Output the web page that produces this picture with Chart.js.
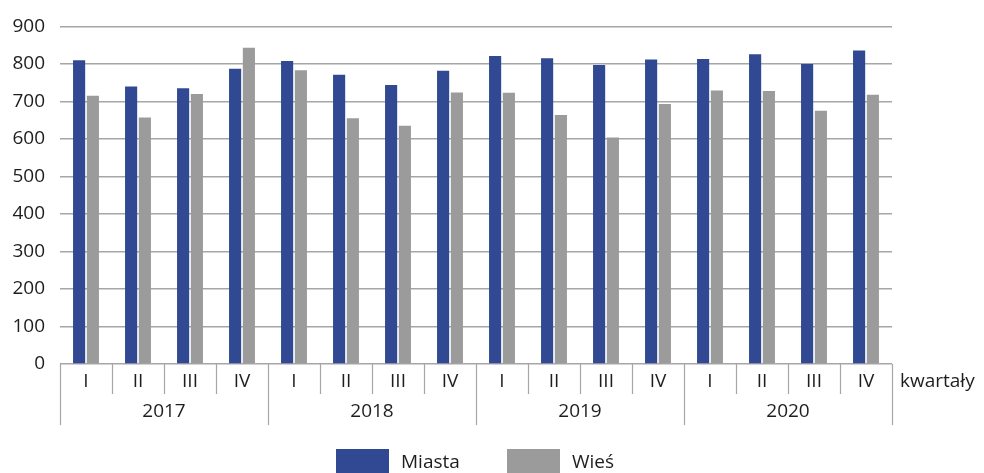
<!DOCTYPE html>
<html>
<head>
<meta charset="utf-8">
<script src="https://cdn.jsdelivr.net/npm/chart.js@4/dist/chart.umd.min.js"></script>
<style>
  body { margin: 0; background: #fff; }
  #wrap { width: 984px; height: 473px; }
</style>
</head>
<body>
<div id="wrap"><canvas id="chart" width="984" height="473"></canvas></div>
<script>
// dane
var kwartaly = ['I', 'II', 'III', 'IV'];
var lata = ['2017', '2018', '2019', '2020'];
var miasta = [810, 740, 735, 787, 808, 771, 744, 782, 821, 815, 797, 812, 813, 826, 800, 836];
var wies = [715, 657, 720, 843, 783, 655, 635, 724, 723, 664, 604, 693, 729, 728, 675, 718];
var osX = 'kwartały';

var labels = [];
lata.forEach(function(rok) {
    kwartaly.forEach(function(k) { labels.push(rok + ' ' + k); });
});

var FONT = '"Open Sans", "Noto Sans", sans-serif';
var GRID = '#a6a6a6';
var TEXT = '#1e1e1e';

// Rysuje dwupoziomowa os X (kwartaly + lata) i legende
var osPlugin = {
    id: 'osKwartaly',
    afterDraw: function(chart) {
        var ctx = chart.ctx;
        var x = chart.scales.x;
        var area = chart.chartArea;
        var n = labels.length;
        var step = (area.right - area.left) / n;
        var y0 = area.bottom;

        ctx.save();
        ctx.strokeStyle = GRID;
        ctx.lineWidth = 1.2;
        for (var i = 0; i <= n; i++) {
            var px = Math.round(area.left + i * step) + 0.5;
            var dol = (i % 4 === 0) ? y0 + 61 : y0 + 30;
            ctx.beginPath();
            ctx.moveTo(px, y0);
            ctx.lineTo(px, dol);
            ctx.stroke();
        }

        ctx.fillStyle = TEXT;
        ctx.font = '19px ' + FONT;
        ctx.textAlign = 'center';
        ctx.textBaseline = 'middle';
        for (var j = 0; j < n; j++) {
            ctx.fillText(kwartaly[j % 4], x.getPixelForValue(j), y0 + 18);
        }
        for (var r = 0; r < lata.length; r++) {
            var srodek = (x.getPixelForValue(r * 4) + x.getPixelForValue(r * 4 + 3)) / 2;
            ctx.fillText(lata[r], srodek, y0 + 48);
        }
        ctx.textAlign = 'left';
        ctx.fillText(osX, area.right + 8, y0 + 18);

        // legenda
        var pozycje = [336, 507];
        chart.data.datasets.forEach(function(ds, k) {
            ctx.fillStyle = ds.backgroundColor;
            ctx.fillRect(pozycje[k], 449, 53, 26);
            ctx.fillStyle = TEXT;
            ctx.textAlign = 'left';
            ctx.fillText(ds.label, pozycje[k] + 65, 463);
        });
        ctx.restore();
    }
};

var ctx = document.getElementById('chart').getContext('2d');
var wykres = new Chart(ctx, {
    type: 'bar',
    data: {
        labels: labels,
        datasets: [{
            label: 'Miasta',
            data: miasta,
            backgroundColor: '#314993',
            borderWidth: 0
        }, {
            label: 'Wieś',
            data: wies,
            backgroundColor: '#9b9b9b',
            borderWidth: 0
        }]
    },
    options: {
        responsive: false,
        animation: false,
        devicePixelRatio: 1,
        categoryPercentage: 0.53,
        barPercentage: 0.88,
        layout: { padding: { top: 21, right: 92, left: 0, bottom: 0 } },
        plugins: {
            legend: { display: false },
            tooltip: { enabled: false }
        },
        scales: {
            x: {
                grid: { display: false },
                border: { display: false },
                ticks: { display: false },
                afterFit: function(scale) { scale.height = 109; }
            },
            y: {
                min: 0,
                max: 900,
                ticks: {
                    stepSize: 100,
                    color: TEXT,
                    padding: 15,
                    font: { family: FONT, size: 19 }
                },
                grid: { color: GRID, lineWidth: 1.5, drawTicks: false },
                border: { display: false },
                afterFit: function(scale) { scale.width = 60; }
            }
        }
    },
    plugins: [osPlugin]
});
</script>
</body>
</html>
